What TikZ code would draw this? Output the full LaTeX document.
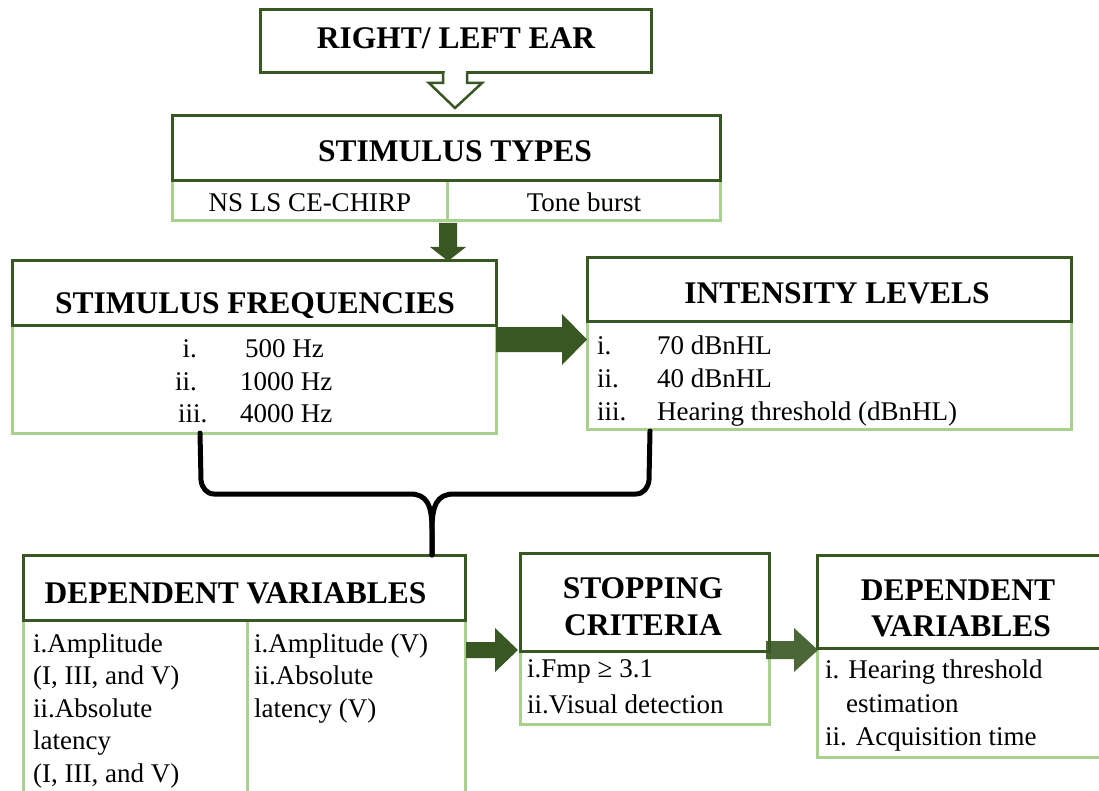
\documentclass[tikz,border=0pt]{standalone}
\usepackage{fontspec}
\setmainfont{Liberation Serif}
\definecolor{dkg}{RGB}{56,87,35}
\definecolor{ltg}{RGB}{169,209,142}
\newcommand\hfnt{\fontsize{31.5}{37}\selectfont\bfseries}
\newcommand\bfnt{\fontsize{27}{32}\selectfont}
\begin{document}
\begin{tikzpicture}[x=1pt,y=-1pt,
  hdrbox/.style={draw=dkg,line width=3pt,fill=white,inner sep=0pt,outer sep=0pt,anchor=north west},
  bodybox/.style={draw=ltg,line width=3pt,fill=white,inner sep=0pt,outer sep=0pt,anchor=north west},
  th/.style={inner sep=0pt,anchor=base,font=\hfnt},
  tc/.style={inner sep=0pt,anchor=base,font=\bfnt},
  tw/.style={inner sep=0pt,anchor=base west,font=\bfnt},
  te/.style={inner sep=0pt,anchor=base east,font=\bfnt},
  fatarrow/.style={fill=dkg},
  brk/.style={draw=black,line width=5pt,line join=round,line cap=round}]
\useasboundingbox (0,0) rectangle (1099,791);
\fill[white] (0,0) rectangle (1099,791);

% ---------- RIGHT / LEFT EAR ----------
\node[hdrbox,minimum width=391pt,minimum height=63pt] (ear) at (260,10) {};
\node[th] (earT) at (456,49) {RIGHT/ LEFT EAR};
\fill[white] (444.5,71) rectangle (465.5,76);
\draw[dkg,line width=2.5pt,fill=white,line join=miter] (443,73) -- (443,83) -- (429,83) -- (455,108) -- (482,83) -- (467,83) -- (467,73);

% ---------- STIMULUS TYPES ----------
\node[bodybox,minimum width=275pt,minimum height=40pt] (stL) at (172,181) {};
\node[bodybox,minimum width=273pt,minimum height=40pt] (stR) at (447,181) {};
\node[hdrbox,minimum width=548pt,minimum height=65pt] (st) at (172,116) {};
\node[th] (stT) at (455,162) {STIMULUS TYPES};
\node[tc] (stLT) at (310,212) {NS LS CE-CHIRP};
\node[tc] (stRT) at (584,212) {Tone burst};
\fill[fatarrow] (439,223) -- (457,223) -- (457,247) -- (466,247) -- (448,261) -- (430,247) -- (439,247) -- cycle;

% ---------- STIMULUS FREQUENCIES ----------
\node[bodybox,minimum width=484pt,minimum height=108pt] (frB) at (12,325) {};
\node[hdrbox,minimum width=484pt,minimum height=64pt] (fr) at (12,261) {};
\node[th] (frT) at (255,313) {STIMULUS FREQUENCIES};
\node[te] (fr1n) at (197,357) {i.};
\node[tw] (fr1) at (245,357) {500 Hz};
\node[te] (fr2n) at (197,390) {ii.};
\node[tw] (fr2) at (240,390) {1000 Hz};
\node[tw] (fr3n) at (178,422) {iii.};
\node[tw] (fr3) at (240,422) {4000 Hz};

% ---------- INTENSITY LEVELS ----------
\node[bodybox,minimum width=484pt,minimum height=108pt] (inB) at (587,321) {};
\node[hdrbox,minimum width=484pt,minimum height=63pt] (in) at (587,258) {};
\node[th] (inT) at (837,303) {INTENSITY LEVELS};
\node[tw] (in1n) at (597,354) {i.};
\node[tw] (in1) at (657,354) {70 dBnHL};
\node[tw] (in2n) at (597,387) {ii.};
\node[tw] (in2) at (657,387) {40 dBnHL};
\node[tw] (in3n) at (597,420) {iii.};
\node[tw] (in3) at (657,420) {Hearing threshold (dBnHL)};

\fill[fatarrow] (496,327) -- (562,327) -- (562,314) -- (587,339.5) -- (562,365) -- (562,352) -- (496,352) -- cycle;

% ---------- DEPENDENT VARIABLES (left) ----------
\node[bodybox,minimum width=224pt,minimum height=185pt] (dvL) at (23,620) {};
\node[bodybox,minimum width=218pt,minimum height=185pt] (dvR) at (247,620) {};
\node[hdrbox,minimum width=442pt,minimum height=65pt] (dv) at (23,555) {};
\node[th] (dvT) at (235.5,603) {DEPENDENT VARIABLES};
\node[tw] (dvL1) at (33,652) {i.Amplitude};
\node[tw] (dvL2) at (33,684.5) {(I, III, and V)};
\node[tw] (dvL3) at (33,717) {ii.Absolute};
\node[tw] (dvL4) at (33,749.5) {latency};
\node[tw] (dvL5) at (33,782) {(I, III, and V)};
\node[tw] (dvR1) at (254,652) {i.Amplitude (V)};
\node[tw] (dvR2) at (254,684.5) {ii.Absolute};
\node[tw] (dvR3) at (254,717) {latency (V)};

% ---------- STOPPING CRITERIA ----------
\node[bodybox,minimum width=249pt,minimum height=73pt] (scB) at (520,651) {};
\node[hdrbox,minimum width=249pt,minimum height=98pt] (sc) at (520,553) {};
\node[th] (scT1) at (643,598) {STOPPING};
\node[th] (scT2) at (643,635) {CRITERIA};
\node[tw] (sc1) at (527,677) {i.Fmp ≥ 3.1};
\node[tw] (sc2) at (527,713) {ii.Visual detection};

\fill[fatarrow] (466,642) -- (495,642) -- (495,628) -- (518,650) -- (495,672) -- (495,658) -- (466,658) -- cycle;

% ---------- DEPENDENT VARIABLES (right) ----------
\node[bodybox,minimum width=284pt,minimum height=109pt] (dv2B) at (817,648) {};
\node[hdrbox,minimum width=284pt,minimum height=93pt] (dv2) at (817,555) {};
\node[th] (dv2T1) at (958,600) {DEPENDENT};
\node[th] (dv2T2) at (961,636) {VARIABLES};
\node[tw] (dv21) at (825,678) {i. Hearing threshold};
\node[tw] (dv22) at (846,712) {estimation};
\node[tw] (dv23) at (825,745) {ii. Acquisition time};

\fill[fatarrow,opacity=0.9] (766,641) -- (794,641) -- (794,628) -- (818,650) -- (794,672) -- (794,659) -- (766,659) -- cycle;

% ---------- bracket ----------
\coordinate (bj) at (432,555);
\draw[brk] (200,433) -- (201,480) to[out=-85,in=180] (214,494) -- (410,494) .. controls (427,494) and (432,505) .. (432,530) -- (bj);
\draw[brk] (650,431) -- (649,480) to[out=-95,in=0] (636,494) -- (454,494) .. controls (437,494) and (432,505) .. (432,530) -- (bj);
\end{tikzpicture}
\end{document}
